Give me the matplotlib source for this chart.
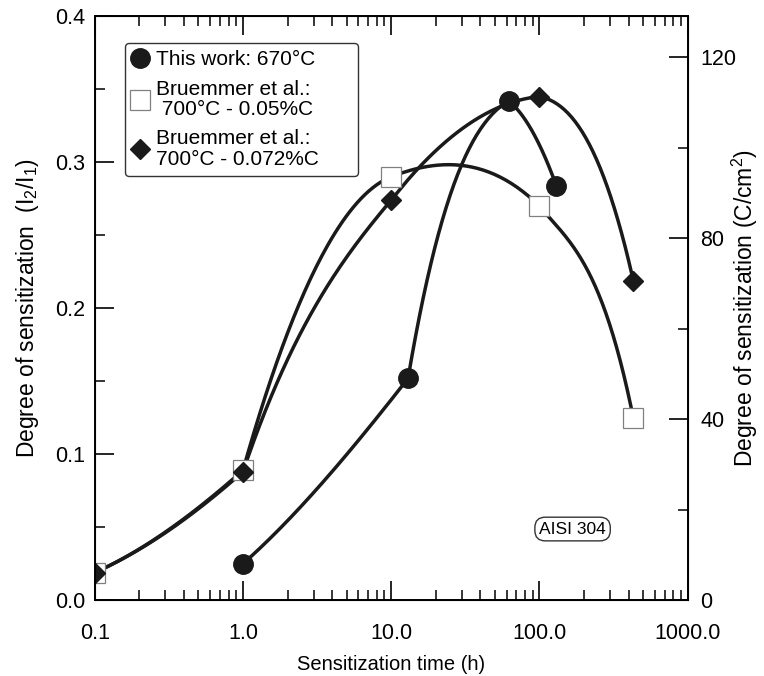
import numpy as np
import matplotlib.pyplot as plt
from matplotlib.ticker import FixedLocator, NullFormatter

plt.rcParams['font.family'] = ['Liberation Sans', 'DejaVu Sans']
plt.rcParams['mathtext.fontset'] = 'custom'
plt.rcParams['mathtext.rm'] = 'Liberation Sans'
plt.rcParams['mathtext.it'] = 'Liberation Sans'

# data
work_t = [1.0, 13.0, 62.0, 130.0]
work_dos = [0.025, 0.152, 0.342, 0.284]

br05_t = [0.1, 1.0, 10.0, 100.0, 430.0]
br05_dos = [0.019, 0.089, 0.290, 0.270, 0.125]

br072_t = [0.1, 1.0, 10.0, 100.0, 430.0]
br072_dos = [0.019, 0.088, 0.274, 0.345, 0.219]

# slopes (per decade) of the drawn curves leaving / entering each point
work_out = [0.09, 0.60, -0.08]
work_in = [0.13, 0.06, -0.28]
br05_out = [0.045, 0.36, 0.04, -0.12]
br05_in = [0.09, 0.04, -0.10, -0.50]
br072_out = [0.045, 0.30, 0.13, -0.02]
br072_in = [0.09, 0.12, 0.01, -0.45]

xticks = [0.1, 1.0, 10.0, 100.0, 1000.0]
xticklabels = ['0.1', '1.0', '10.0', '100.0', '1000.0']


def curve(x, y, m_out, m_in, n=80):
    # piecewise cubic hermite in log10(x)
    lx = np.log10(x)
    xs_all, ys_all = [], []
    for i in range(len(lx) - 1):
        h = lx[i + 1] - lx[i]
        t = np.linspace(0, 1, n)
        h00 = 2 * t**3 - 3 * t**2 + 1
        h10 = t**3 - 2 * t**2 + t
        h01 = -2 * t**3 + 3 * t**2
        h11 = t**3 - t**2
        ys = h00 * y[i] + h10 * h * m_out[i] + h01 * y[i + 1] + h11 * h * m_in[i]
        xs_all.append(10**(lx[i] + t * h))
        ys_all.append(ys)
    return np.concatenate(xs_all), np.concatenate(ys_all)


fig = plt.figure(figsize=(7.64, 6.76), dpi=100)
ax = fig.add_axes([0.124, 0.112, 0.776, 0.864])

lc = '#1a1a1a'
for t, d, mo, mi in [(br05_t, br05_dos, br05_out, br05_in),
                     (br072_t, br072_dos, br072_out, br072_in),
                     (work_t, work_dos, work_out, work_in)]:
    xs, ys = curve(t, d, mo, mi)
    ax.plot(xs, ys, color=lc, lw=2.5, zorder=2, solid_capstyle='round')

ax.plot(br05_t, br05_dos, ls='none', marker='s', ms=15, mfc='white', mec='#808080', mew=0.9,
        label='Bruemmer et al.:\n 700°C - 0.05%C', zorder=3)
ax.plot(br072_t, br072_dos, ls='none', marker='D', ms=10.5, color=lc,
        label='Bruemmer et al.:\n700°C - 0.072%C', zorder=4)
ax.plot(work_t, work_dos, ls='none', marker='o', ms=14, color=lc,
        label='This work: 670°C', zorder=5)

ax.set_xscale('log')
ax.set_xlim(0.1, 1000)
ax.set_ylim(0, 0.4)
ax.xaxis.set_major_locator(FixedLocator(xticks))
ax.set_xticklabels(xticklabels)
ax.xaxis.set_minor_formatter(NullFormatter())
ax.set_yticks([0.0, 0.1, 0.2, 0.3, 0.4])
ax.set_yticklabels(['0.0', '0.1', '0.2', '0.3', '0.4'])
ax.yaxis.set_minor_locator(FixedLocator([0.05, 0.15, 0.25, 0.35]))
ax.tick_params(which='both', direction='in', top=True, right=False, labelsize=15.5)
ax.tick_params(axis='x', which='major', pad=16)
ax.tick_params(axis='y', which='major', pad=7)
ax.tick_params(which='major', length=14, width=1.2)
ax.tick_params(which='minor', length=7, width=1.1)
for s in ax.spines.values():
    s.set_linewidth(1.4)

ax.set_xlabel('Sensitization time (h)', fontsize=14.5, labelpad=8)
ax.set_ylabel('Degree of sensitization  (I$_2$/I$_1$)', fontsize=16.5, labelpad=10)

ax2 = ax.twinx()
ax2.set_ylim(0, 129)
ax2.set_yticks([0, 40, 80, 120])
ax2.yaxis.set_minor_locator(FixedLocator([20, 60, 100]))
ax2.tick_params(which='both', direction='in', labelsize=15.5, pad=9)
ax2.tick_params(which='major', length=14, width=1.2)
ax2.tick_params(which='minor', length=7, width=1.1)
ax2.set_ylabel('Degree of sensitization (C/cm$^2$)', fontsize=16.5)
ax2.yaxis.set_label_coords(1.071, 0.5)

handles, labels = ax.get_legend_handles_labels()
order = [2, 0, 1]
leg = ax.legend([handles[i] for i in order], [labels[i] for i in order],
                loc='upper left', bbox_to_anchor=(0.0506, 0.954, 0.393, 0), mode='expand',
                borderaxespad=0, fontsize=15, handlelength=0.8, handletextpad=0.35,
                borderpad=0.35, labelspacing=0.5, fancybox=True, framealpha=1,
                edgecolor='#333333')
leg.get_frame().set_linewidth(1.0)
for txt in leg.get_texts():
    txt.set_linespacing(1.08)

ax.text(0.806, 0.122, 'AISI 304', transform=ax.transAxes, fontsize=12.5,
        ha='center', va='center',
        bbox=dict(boxstyle='round,pad=0.25,rounding_size=0.6', fc='white', ec='#333333', lw=1.0))

fig.savefig('out.png', dpi=100)
